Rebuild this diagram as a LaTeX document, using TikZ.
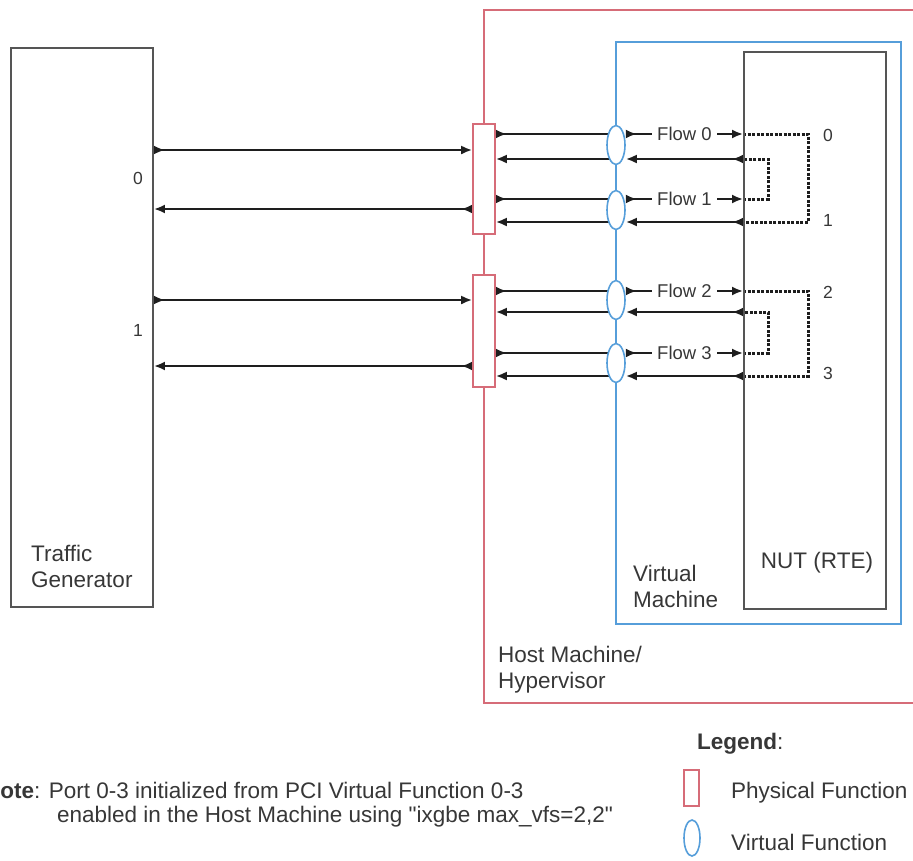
\documentclass[tikz,border=0pt]{standalone}
\usepackage{fontspec}
\setmainfont{Liberation Sans}[Ligatures=TeXOff]
\usepackage{tikz}
\usetikzlibrary{arrows.meta,positioning,shapes.geometric,calc}
\definecolor{pfred}{RGB}{214,108,120}
\definecolor{vfblue}{RGB}{86,158,218}
\definecolor{boxgray}{RGB}{85,85,85}
\definecolor{inkgray}{RGB}{55,55,55}
\definecolor{wiregray}{RGB}{30,30,30}
\pgfdeclarelayer{back}
\pgfsetlayers{back,main}
\tikzset{
    x=1pt,y=-1pt,
    box/.style ={rectangle, draw=boxgray, line width=1.8pt, inner sep=0pt},
    hostbox/.style ={rectangle, draw=pfred, line width=1.8pt, inner sep=0pt},
    vmbox/.style ={rectangle, draw=vfblue, line width=1.8pt, inner sep=0pt},
    pf/.style ={rectangle, draw=pfred, fill=white, line width=1.6pt, inner sep=0pt, minimum width=22pt},
    vf/.style ={ellipse, draw=vfblue, fill=white, line width=1.6pt, inner sep=0pt, minimum width=18pt, minimum height=39pt},
    lbl/.style = {inner sep=0pt, align=left, text=inkgray, font=\fontsize{22.5}{26}\selectfont},
    num/.style = {inner sep=0pt, text=inkgray, font=\fontsize{17.5}{20}\selectfont},
    flowlbl/.style = {fill=white, inner xsep=5pt, inner ysep=1pt, text=inkgray, font=\fontsize{18.5}{20}\selectfont},
    link/.style = {{Latex[reversed,length=11pt,width=9pt]}-{Latex[length=11pt,width=9pt]}, line width=2.4pt, draw=wiregray},
    loopback/.style = {line width=3pt, draw=wiregray, dash pattern=on 3pt off 1.5pt}
}

\begin{document}
\begin{tikzpicture}
    \useasboundingbox (0,0) rectangle (913,860);
    \clip (0,0) rectangle (913,860);

    % machines
    \node[hostbox, minimum width=446pt, minimum height=693pt] (host) at (707,356.5) {};
    \node[vmbox, minimum width=285pt, minimum height=582pt] (vm) at (758.5,333) {};
    \node[box, minimum width=142pt, minimum height=557pt] (nut) at (815,330.5) {};
    \node[box, minimum width=142pt, minimum height=559pt] (tg) at (82,327.5) {};

    % physical / virtual functions
    \node[pf, minimum height=110pt] (pf0) at (484,179) {};
    \node[pf, minimum height=112pt] (pf1) at (484,331) {};
    \node[vf] (vf0) at (616,145) {};
    \node[vf] (vf1) at (616,210) {};
    \node[vf] (vf2) at (616,300) {};
    \node[vf] (vf3) at (616,363) {};

    % rows and loop columns
    \coordinate (t0) at (0,150);
    \coordinate (t1) at (0,209);
    \coordinate (t2) at (0,300);
    \coordinate (t3) at (0,366);
    \coordinate (f0) at (0,134);
    \coordinate (r0) at (0,159);
    \coordinate (f1) at (0,199);
    \coordinate (r1) at (0,222);
    \coordinate (f2) at (0,291);
    \coordinate (r2) at (0,312);
    \coordinate (f3) at (0,353);
    \coordinate (r3) at (0,376);
    \coordinate (outer) at (808,0);
    \coordinate (inner) at (768,0);

    \begin{pgfonlayer}{back}
    \path (tg.east |- t0) edge[link] (pf0.west |- t0);
    \path (pf0.west |- t1) edge[link] (tg.east |- t1);
    \path (tg.east |- t2) edge[link] (pf1.west |- t2);
    \path (pf1.west |- t3) edge[link] (tg.east |- t3);

    \path (pf0.east |- f0) edge[link] ([xshift=4pt]vf0.center |- f0);
    \path ([xshift=4pt]vf0.center |- r0) edge[link] (pf0.east |- r0);
    \path (pf0.east |- f1) edge[link] ([xshift=4pt]vf1.center |- f1);
    \path ([xshift=4pt]vf1.center |- r1) edge[link] (pf0.east |- r1);
    \path (pf1.east |- f2) edge[link] ([xshift=4pt]vf2.center |- f2);
    \path ([xshift=4pt]vf2.center |- r2) edge[link] (pf1.east |- r2);
    \path (pf1.east |- f3) edge[link] ([xshift=4pt]vf3.center |- f3);
    \path ([xshift=4pt]vf3.center |- r3) edge[link] (pf1.east |- r3);

    \path (vf0.east |- f0) edge[link] node[flowlbl] {Flow 0} (nut.west |- f0);
    \path (nut.west |- r0) edge[link] (vf0.east |- r0);
    \path (vf1.east |- f1) edge[link] node[flowlbl] {Flow 1} (nut.west |- f1);
    \path (nut.west |- r1) edge[link] (vf1.east |- r1);
    \path (vf2.east |- f2) edge[link] node[flowlbl] {Flow 2} (nut.west |- f2);
    \path (nut.west |- r2) edge[link] (vf2.east |- r2);
    \path (vf3.east |- f3) edge[link] node[flowlbl] {Flow 3} (nut.west |- f3);
    \path (nut.west |- r3) edge[link] (vf3.east |- r3);

    % forwarding inside the NUT
    \draw[loopback] (nut.west |- f0) -| (outer |- r1) -- (nut.west |- r1);
    \draw[loopback] (nut.west |- f1) -| (inner |- r0) -- (nut.west |- r0);
    \draw[loopback] (nut.west |- f2) -| (outer |- r3) -- (nut.west |- r3);
    \draw[loopback] (nut.west |- f3) -| (inner |- r2) -- (nut.west |- r2);
    \end{pgfonlayer}

    % port numbers
    \node[num] (tgp0) at (138,178) {0};
    \node[num] (tgp1) at (138,330) {1};
    \node[num] (nutp0) at (828,135) {0};
    \node[num] (nutp1) at (828,220) {1};
    \node[num] (nutp2) at (828,292) {2};
    \node[num] (nutp3) at (828,373) {3};

    % names
    \node[lbl, anchor=north west] (tgname) at (31,545) {Traffic\\Generator};
    \node[lbl, anchor=north west] (vmname) at (633,565) {Virtual\\Machine};
    \node[lbl, anchor=north west] (hostname) at (498,646) {Host Machine/\\Hypervisor};
    \node[lbl, anchor=base] (nutname) at (817,568) {NUT (RTE)};

    % legend and note
    \node[lbl, anchor=base west] (legend) at (697,749) {\textbf{Legend}:};
    \node[pf, minimum width=15pt, minimum height=36pt] (pfkey) at (691.5,788) {};
    \node[vf, minimum width=16pt, minimum height=36pt] (vfkey) at (692,838) {};
    \node[lbl, anchor=base west] (pftext) at (731,798) {Physical Function};
    \node[lbl, anchor=base west] (vftext) at (731,850) {Virtual Function};
    \node[lbl, anchor=north west, font=\fontsize{22.5}{24}\selectfont] (note) at (-16,782)
        {\textbf{Note}: Port 0-3 initialized from PCI Virtual Function 0-3\\\hspace*{73pt}enabled in the Host Machine using "ixgbe max\_vfs=2,2"};
\end{tikzpicture}
\end{document}
